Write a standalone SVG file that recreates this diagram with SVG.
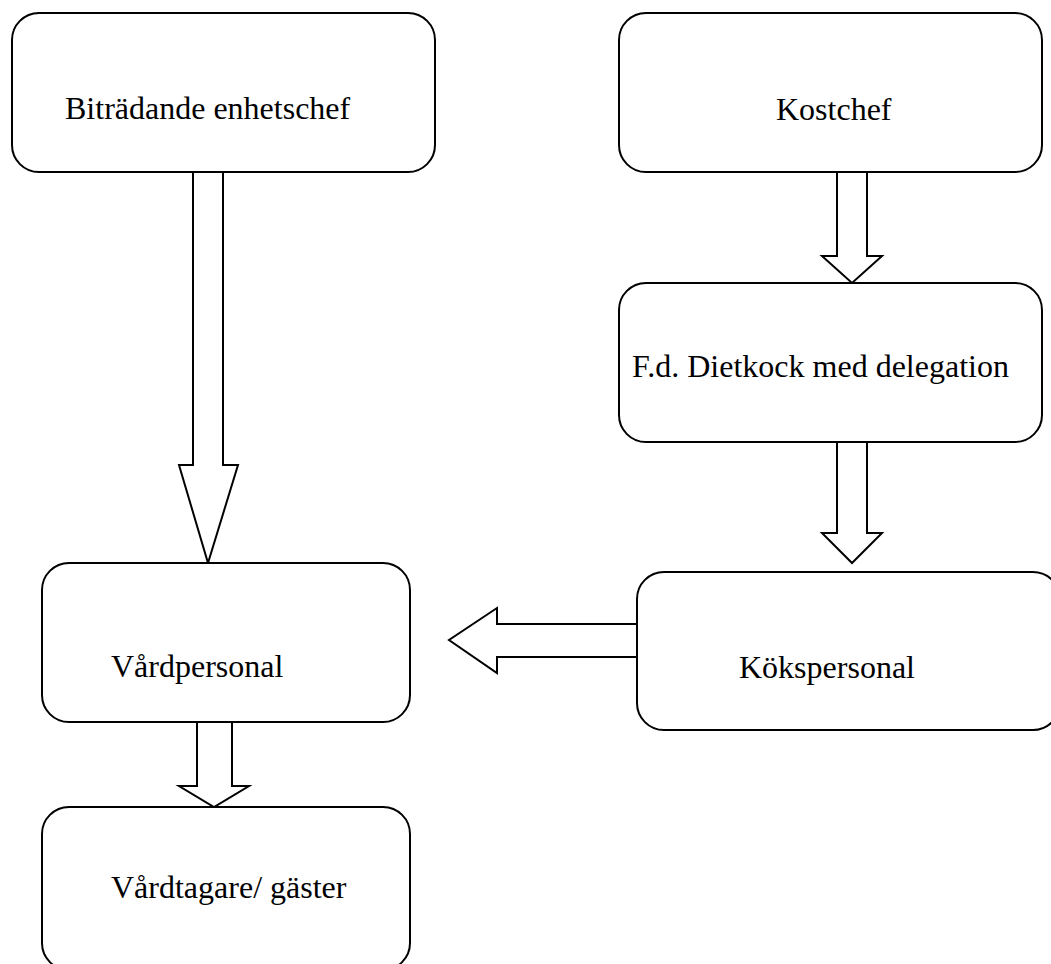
<svg xmlns="http://www.w3.org/2000/svg" width="1051" height="964" viewBox="0 0 1051 964">
<style>
.box{fill:#fff;stroke:#000;stroke-width:2}
.arr{fill:#fff;stroke:#000;stroke-width:2;stroke-linejoin:miter}
.lbl{font-family:"Liberation Serif","Times New Roman",serif;font-size:32px;fill:#000}
</style>
<rect width="1051" height="964" fill="#fff"/>
<g id="connectors">
<polygon class="arr" points="193,172 223,172 223,465 238,465 208,563 179,465 193,465"/>
<polygon class="arr" points="837,172 867,172 867,256 882,256 852,283 822,256 837,256"/>
<polygon class="arr" points="837,442 867,442 867,533 882,533 852,563 822,533 837,533"/>
<polygon class="arr" points="638,624 497,624 497,608 449,640 497,673 497,657 638,657"/>
<polygon class="arr" points="197,722 232,722 232,786 249,786 214,807 179,786 197,786"/>
</g>
<g id="n1"><rect class="box" x="12" y="13" width="423" height="159" rx="27"/><text class="lbl" x="65" y="119">Biträdande enhetschef</text></g>
<g id="n2"><rect class="box" x="619" y="13" width="423" height="159" rx="27"/><text class="lbl" x="776" y="120">Kostchef</text></g>
<g id="n3"><rect class="box" x="619" y="283" width="423" height="159" rx="27"/><text class="lbl" x="632" y="377">F.d. Dietkock med delegation</text></g>
<g id="n4"><rect class="box" x="637" y="572" width="423" height="158" rx="27"/><text class="lbl" x="739" y="678">Kökspersonal</text></g>
<g id="n5"><rect class="box" x="42" y="563" width="368" height="159" rx="27"/><text class="lbl" x="111" y="677">Vårdpersonal</text></g>
<g id="n6"><rect class="box" x="42" y="807" width="368" height="163" rx="27"/><text class="lbl" x="111" y="898">Vårdtagare/ gäster</text></g>
</svg>
